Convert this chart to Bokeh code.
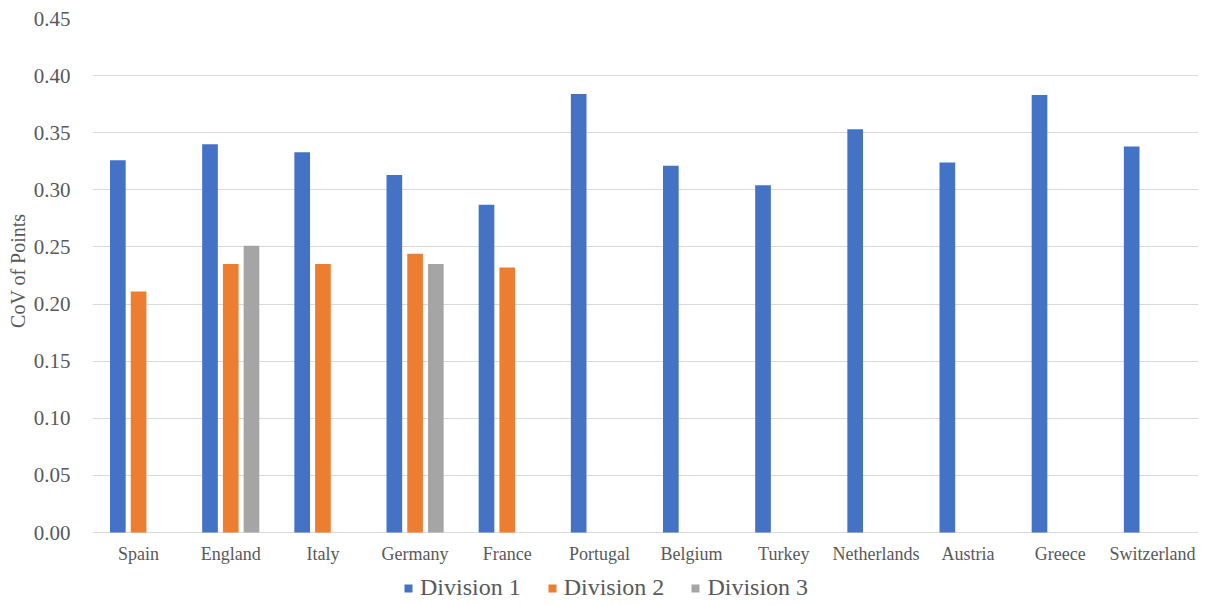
from bokeh.plotting import figure
from bokeh.models import (ColumnDataSource, FactorRange, Range1d, Legend, LegendItem,
                          FixedTicker, NumeralTickFormatter, Title)
from bokeh.core.properties import value
from bokeh.transform import dodge
from bokeh.embed import file_html
from bokeh.resources import INLINE

# Coefficient of variation of points by league and division
countries = ["Spain", "England", "Italy", "Germany", "France", "Portugal",
             "Belgium", "Turkey", "Netherlands", "Austria", "Greece", "Switzerland"]
division1 = [0.326, 0.340, 0.333, 0.313, 0.287, 0.384,
             0.321, 0.304, 0.353, 0.324, 0.383, 0.338]

div2_countries = ["Spain", "England", "Italy", "Germany", "France"]
division2 = [0.211, 0.235, 0.235, 0.244, 0.232]

div3_countries = ["England", "Germany"]
division3 = [0.251, 0.235]

y_ticks = [0.0, 0.05, 0.10, 0.15, 0.20, 0.25, 0.30, 0.35, 0.40, 0.45]
series_names = ["Division 1", "Division 2", "Division 3"]
colors = ["#4472C4", "#ED7D31", "#A5A5A5"]

FONT = "Liberation Serif"
TEXT = "#595959"
GRID = "#D9D9D9"

# The frame reaches the bottom of the canvas so the category labels and the
# legend can sit inside it, below the zero line.
TOP, ZERO_PX, BOTTOM = 18, 532, 605
y_max = y_ticks[-1]
y_min = -(BOTTOM - ZERO_PX) * y_max / (ZERO_PX - TOP)

p = figure(x_range=FactorRange(factors=countries), y_range=Range1d(y_min, y_max),
           width=1207, height=605, output_backend="svg", toolbar_location=None,
           min_border_left=92, min_border_right=9, min_border_top=TOP, min_border_bottom=0)

src1 = ColumnDataSource(dict(x=countries, top=division1))
src2 = ColumnDataSource(dict(x=div2_countries, top=division2))
src3 = ColumnDataSource(dict(x=div3_countries, top=division3))

bw = 0.17
step = 0.225
r1 = p.vbar(x=dodge("x", -step, range=p.x_range), top="top", bottom=0, width=bw, source=src1,
            fill_color=colors[0], line_color=None)
r2 = p.vbar(x=dodge("x", 0, range=p.x_range), top="top", bottom=0, width=bw, source=src2,
            fill_color=colors[1], line_color=None)
r3 = p.vbar(x=dodge("x", step, range=p.x_range), top="top", bottom=0, width=bw, source=src3,
            fill_color=colors[2], line_color=None)

p.outline_line_color = None
p.background_fill_color = "white"
p.border_fill_color = "white"

# y axis
p.yaxis.ticker = FixedTicker(ticks=y_ticks)
p.yaxis.formatter = NumeralTickFormatter(format="0.00")
p.yaxis.axis_line_color = None
p.yaxis.major_tick_line_color = None
p.yaxis.minor_tick_line_color = None
p.yaxis.major_label_standoff = 16
p.yaxis.major_label_text_font = FONT
p.yaxis.major_label_text_font_size = "21px"
p.yaxis.major_label_text_color = TEXT

# axis title, centred on the 0.00-0.45 span rather than the whole frame
p.add_layout(Title(text="CoV of Points", align="right", offset=195, standoff=4,
                   text_font=FONT, text_font_size="20px", text_font_style="normal",
                   text_color=TEXT), "left")

# category labels under the zero line
p.xaxis.visible = False
p.text(x=countries, y=[0.0] * len(countries), text=countries, y_offset=21,
       text_align="center", text_baseline="middle", text_font=value(FONT),
       text_font_size="18px", text_color=TEXT)

p.xgrid.grid_line_color = None
p.ygrid.grid_line_color = GRID
p.ygrid.grid_line_width = 1

legend = Legend(items=[LegendItem(label=series_names[0], renderers=[r1]),
                       LegendItem(label=series_names[1], renderers=[r2]),
                       LegendItem(label=series_names[2], renderers=[r3])],
                orientation="horizontal", location=(311, 4),
                glyph_width=10, glyph_height=10, label_standoff=7, spacing=26,
                padding=0, margin=0, border_line_color=None, background_fill_alpha=0)
legend.label_text_font = FONT
legend.label_text_font_style = "normal"
legend.label_text_font_size = "24px"
legend.label_text_color = TEXT
p.add_layout(legend, "center")

open("out.html", "w").write(file_html(p, INLINE))
